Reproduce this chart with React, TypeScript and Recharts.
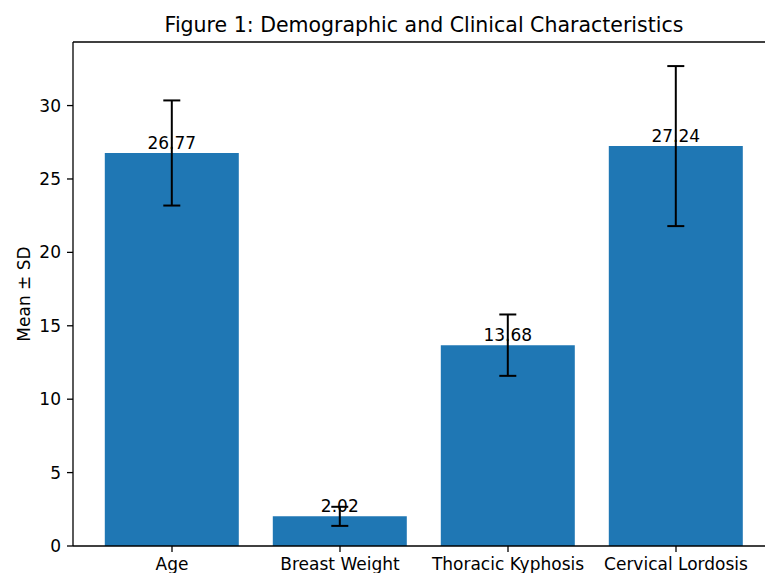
import React from 'react';
import { BarChart, Bar, XAxis, YAxis, ErrorBar, LabelList, ReferenceLine } from 'recharts';

const categories = ['Age', 'Breast Weight', 'Thoracic Kyphosis', 'Cervical Lordosis'];
const means = [26.77, 2.02, 13.68, 27.24];
const sds = [3.58, 0.65, 2.09, 5.45];
const yTicks = [0, 5, 10, 15, 20, 25, 30];
const yMax = 34.33;
const title = 'Figure 1: Demographic and Clinical Characteristics';
const yLabel = 'Mean ± SD';

const data = categories.map((name, i) => ({ name, mean: means[i], sd: sds[i] }));

const FONT = '"DejaVu Sans", sans-serif';
const tickStyle = { fontSize: 17, fill: '#000', fontFamily: FONT };

const YLabelContent = (props: any) => {
  const vb = props && props.viewBox ? props.viewBox : { x: 13, y: 42, width: 60, height: 504 };
  const cx = vb.x + 17;
  const cy = vb.y + vb.height / 2;
  return (
    <text
      x={cx}
      y={cy}
      transform={`rotate(-90 ${cx} ${cy})`}
      textAnchor="middle"
      fontSize={17}
      fill="#000"
      fontFamily={FONT}
    >
      {yLabel}
    </text>
  );
};

const TitleContent = (props: any) => {
  const vb = props && props.viewBox ? props.viewBox : { x: 73, y: 42, width: 702, height: 0 };
  const cx = vb.x + vb.width / 2;
  const cy = vb.y - 10;
  return (
    <text x={cx} y={cy} textAnchor="middle" fontSize={20.5} fill="#000" fontFamily={FONT}>
      {title}
    </text>
  );
};

export default function App() {
  return (
    <div
      style={{
        position: 'fixed',
        left: 0,
        top: 0,
        width: 765,
        height: 573,
        overflow: 'hidden',
        background: '#fff',
        fontFamily: FONT,
      }}
    >
      <BarChart
        width={790}
        height={600}
        data={data}
        margin={{ top: 42, right: 15, bottom: 24, left: 13 }}
        barCategoryGap="10%"
      >
        <XAxis
          dataKey="name"
          height={30}
          padding={{ left: 15, right: 15 }}
          tickSize={6}
          tickMargin={6}
          tick={tickStyle}
          axisLine={{ stroke: '#000', strokeWidth: 1.3 }}
          tickLine={{ stroke: '#000', strokeWidth: 1.3 }}
          interval={0}
        />
        <YAxis
          type="number"
          domain={[0, yMax]}
          ticks={yTicks}
          width={60}
          tickSize={6}
          tickMargin={6}
          tick={tickStyle}
          axisLine={{ stroke: '#000', strokeWidth: 1.3 }}
          tickLine={{ stroke: '#000', strokeWidth: 1.3 }}
          label={{ content: YLabelContent }}
        />
        <ReferenceLine
          y={yMax}
          stroke="#000"
          strokeWidth={1.3}
          ifOverflow="visible"
          label={{ content: TitleContent }}
        />
        <Bar dataKey="mean" fill="#1f77b4" isAnimationActive={false}>
          <LabelList
            dataKey="mean"
            position="top"
            offset={4}
            formatter={(v: any) => Number(v).toFixed(2)}
            style={{ fontSize: 17, fill: '#000', fontFamily: FONT }}
          />
          <ErrorBar dataKey="sd" direction="y" width={8.5} stroke="#000" strokeWidth={2} />
        </Bar>
      </BarChart>
    </div>
  );
}
